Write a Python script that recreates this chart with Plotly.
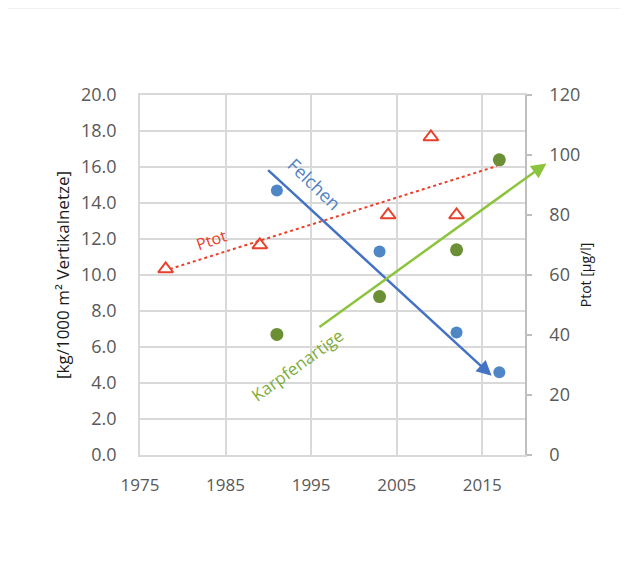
import plotly.graph_objects as go

# ---- data ----
felchen_year = [1991, 2003, 2012, 2017]
felchen_val = [14.7, 11.3, 6.8, 4.6]

karpfen_year = [1991, 2003, 2012, 2017]
karpfen_val = [6.7, 8.8, 11.4, 16.4]

ptot_year = [1978, 1989, 2004, 2009, 2012]
ptot_val = [62, 70, 80, 106, 80]

# trend arrows (start, end) in data units
felchen_trend_year = [1989.8, 2016.1]
felchen_trend_val = [15.9, 4.4]
karpfen_trend_year = [1995.8, 2022.5]
karpfen_trend_val = [7.05, 16.2]
ptot_trend_year = [1978.5, 2016.7]
ptot_trend_val = [62, 96.3]

x_ticks = [1975, 1985, 1995, 2005, 2015]

BLUE_M = "#4f86c6"
BLUE_L = "#4472c4"
GREEN_M = "#6b8f35"
GREEN_L = "#8cc43e"
RED = "#e8402a"
GRID = "#d9d9d9"
TICKC = "#595959"
FONT = "Open Sans"

fig = go.Figure()

fig.add_trace(go.Scatter(x=ptot_trend_year, y=ptot_trend_val, yaxis="y2", mode="lines",
                         line=dict(color=RED, width=2, dash="dot"), showlegend=False))
fig.add_trace(go.Scatter(x=felchen_year, y=felchen_val, mode="markers",
                         marker=dict(color=BLUE_M, size=12), showlegend=False))
fig.add_trace(go.Scatter(x=karpfen_year, y=karpfen_val, mode="markers",
                         marker=dict(color=GREEN_M, size=13), showlegend=False))
fig.add_trace(go.Scatter(x=ptot_year, y=ptot_val, yaxis="y2", mode="markers",
                         marker=dict(symbol="triangle-up-open", color=RED, size=13,
                                     line=dict(width=2, color=RED)), showlegend=False))

annotations = [
    dict(x=felchen_trend_year[1], y=felchen_trend_val[1], ax=felchen_trend_year[0],
         ay=felchen_trend_val[0], xref="x", yref="y", axref="x", ayref="y", text="",
         showarrow=True, arrowhead=2, arrowsize=1.2, arrowwidth=2.5, arrowcolor=BLUE_L),
    dict(x=karpfen_trend_year[1], y=karpfen_trend_val[1], ax=karpfen_trend_year[0],
         ay=karpfen_trend_val[0], xref="x", yref="y", axref="x", ayref="y", text="",
         showarrow=True, arrowhead=2, arrowsize=1.2, arrowwidth=2.5, arrowcolor=GREEN_L),
    dict(x=1995.4, y=15.05, xref="x", yref="y", text="Felchen", showarrow=False,
         textangle=44, font=dict(family=FONT, size=18, color="#5083c4")),
    dict(x=1983.3, y=11.95, xref="x", yref="y", text="Ptot", showarrow=False,
         textangle=-19, font=dict(family=FONT, size=16, color=RED)),
    dict(x=1993.3, y=5.0, xref="x", yref="y", text="Karpfenartige", showarrow=False,
         textangle=-36, font=dict(family=FONT, size=17, color="#7fad3a")),
]

fig.update_layout(
    width=620, height=557,
    margin=dict(l=132, r=103, t=87, b=110),
    paper_bgcolor="#eef0ef",
    plot_bgcolor="white",
    font=dict(family=FONT, color=TICKC, size=17),
    shapes=[dict(type="rect", xref="paper", yref="paper", x0=-0.343, x1=1.35,
                 y0=-0.4, y1=1.239, fillcolor="white", line=dict(width=0), layer="below")],
    annotations=annotations,
    xaxis=dict(range=[1975, 2020], tickvals=x_ticks, showgrid=True, gridcolor=GRID,
               gridwidth=1.5, showline=True, linecolor=GRID, linewidth=1.5, mirror=True,
               ticks="", ticklabelstandoff=14, zeroline=False, automargin=False,
               tickfont=dict(size=17, color=TICKC)),
    yaxis=dict(range=[0, 20], dtick=2, tickformat=".1f", showgrid=True, gridcolor=GRID,
               gridwidth=1.5, showline=True, linecolor=GRID, linewidth=1.5, zeroline=False,
               ticks="", ticklabelstandoff=18, tickfont=dict(size=18, color=TICKC),
               automargin=False,
               title=dict(text="[kg/1000 m² Vertikalnetze]", standoff=7,
                          font=dict(size=17, color="#1a1a1a"))),
    yaxis2=dict(range=[0, 120], dtick=20, overlaying="y", side="right", showgrid=False,
                showline=True, linecolor="#bfbfbf", linewidth=1.5, zeroline=False,
                ticks="outside", ticklen=5, tickcolor="#bfbfbf", tickwidth=1.5,
                ticklabelstandoff=14, tickfont=dict(size=18, color=TICKC),
                automargin=False,
                title=dict(text="Ptot [µg/l]", standoff=2,
                           font=dict(size=14, color="#1a1a1a"))),
)

fig.write_html("out.html")
